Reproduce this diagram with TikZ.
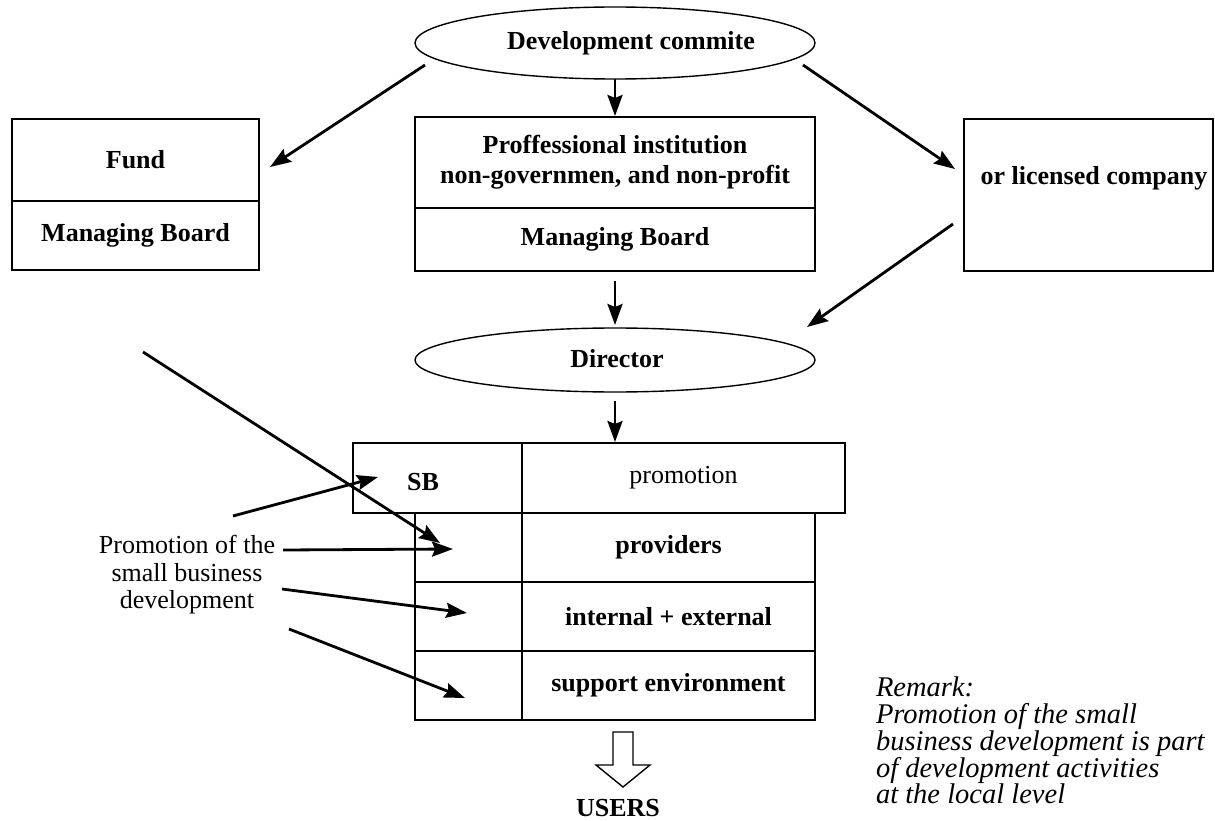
\documentclass[tikz,border=0pt]{standalone}
\usepackage{fontspec}
\setmainfont{Liberation Serif}
\usetikzlibrary{arrows.meta,shapes.geometric,calc}
\begin{document}
\begin{tikzpicture}[x=1pt,y=-1pt,
  every node/.style={inner sep=0pt, outer sep=0pt},
  cell/.style={draw, line width=1.4pt, rectangle, align=center,
    font=\bfseries\fontsize{26}{30}\selectfont},
  lbl/.style={align=center, font=\bfseries\fontsize{26}{30}\selectfont},
  plain/.style={align=center, font=\fontsize{26}{27.5}\selectfont},
  oval/.style={draw, ellipse, line width=1.4pt, minimum width=400pt, minimum height=72pt},
  arr/.style={line width=2.8pt, -{Stealth[length=21pt,width=15pt,inset=3pt]}},
]
\useasboundingbox (0,0) rectangle (1215,821);

% committee and the three founding bodies
\node[oval] (dev) at (615,43) {};
\node[lbl] (devtext) at (631,43) {Development commite};

\node[cell, minimum width=247pt, minimum height=82pt] (fundtop) at (135.5,160) {Fund};
\node[cell, minimum width=247pt, minimum height=69pt] (fundbot) at (135.5,235.5) {Managing Board};

\node[cell, minimum width=400pt, minimum height=91pt] (insttop) at (615,162.5)
  {Proffessional institution\\non-governmen, and non-profit};
\node[cell, minimum width=400pt, minimum height=63pt] (instbot) at (615,239.5) {Managing Board};

\node[cell, minimum width=249pt, minimum height=152pt] (lic) at (1088.5,195) {};
\node[lbl] (lictext) at (1094,178) {or licensed company};

% director
\node[oval, minimum height=64pt] (dir) at (615,360) {};
\node[lbl] (dirtext) at (617,359) {Director};

% promotion table
\node[cell, minimum width=169pt, minimum height=70pt] (sb) at (437.5,478) {};
\node[lbl] (sbtext) at (423,482) {SB};
\node[cell, font=\fontsize{26}{30}\selectfont, minimum width=323pt, minimum height=70pt]
  (promo) at (683.5,478) {promotion};

\node[cell, minimum width=107pt, minimum height=69pt] (pl) at (468.5,547.5) {};
\node[cell, minimum width=293pt, minimum height=69pt] (pr) at (668.5,547.5) {providers};
\node[cell, minimum width=107pt, minimum height=69pt] (il) at (468.5,616.5) {};
\node[cell, minimum width=293pt, minimum height=69pt] (ir) at (668.5,616.5) {internal + external};
\node[cell, minimum width=107pt, minimum height=69pt] (sl) at (468.5,685.5) {};
\node[cell, minimum width=293pt, minimum height=69pt] (sr) at (668.5,685.5) {support environment};

% outcome
\coordinate (ushaft) at (623,732);
\draw[line width=1.4pt] ($(ushaft)+(-10,0)$) -- ($(ushaft)+(10,0)$) -- ($(ushaft)+(10,33)$)
  -- ($(ushaft)+(27,33)$) -- ($(ushaft)+(0,55)$) -- ($(ushaft)+(-27,33)$)
  -- ($(ushaft)+(-10,33)$) -- cycle;
\node[lbl] (users) at (618,808) {USERS};

% side texts
\node[plain] (promtext) at (187,575) {Promotion of the\\small business\\development};
\node[anchor=north west, align=left, font=\itshape\fontsize{28.5}{26.8}\selectfont]
  (remark) at (876,677)
  {Remark:\\Promotion of the small\\business development is part\\of development activities\\at the local level};

% connectors
\draw[arr] ($(dev.center)+(-190,22)$) -- ($(fundtop.east)+(11,7)$);
\draw[arr, shorten >=1pt] (dev.south) -- (insttop.north);
\draw[arr] ($(dev.center)+(188,22)$) -- ($(lic.west)+(-9,-26)$);
\draw[arr] ($(instbot.south)+(0,10)$) -- ($(dir.north)+(0,-3)$);
\draw[arr] ($(lic.west)+(-11,29)$) -- ($(dir.center)+(192,-33)$);
\draw[arr, shorten >=1pt] ($(dir.south)+(0,9)$) -- (dir.south |- promo.north);

\coordinate (diag) at (143,352);
\draw[arr] (diag) -- ($(pl.center)+(-28.5,-4.5)$);
\draw[arr] ($(promtext.center)+(46,-59)$) -- ($(sb.west)+(25,-1)$);
\draw[arr] ($(promtext.center)+(96,-25)$) -- ($(pl.center)+(-15.5,1.5)$);
\draw[arr] ($(promtext.center)+(95,14)$) -- ($(il.center)+(-1.5,-3.5)$);
\draw[arr] ($(promtext.center)+(102,54)$) -- ($(sl.center)+(-3.5,12.5)$);
\end{tikzpicture}
\end{document}
